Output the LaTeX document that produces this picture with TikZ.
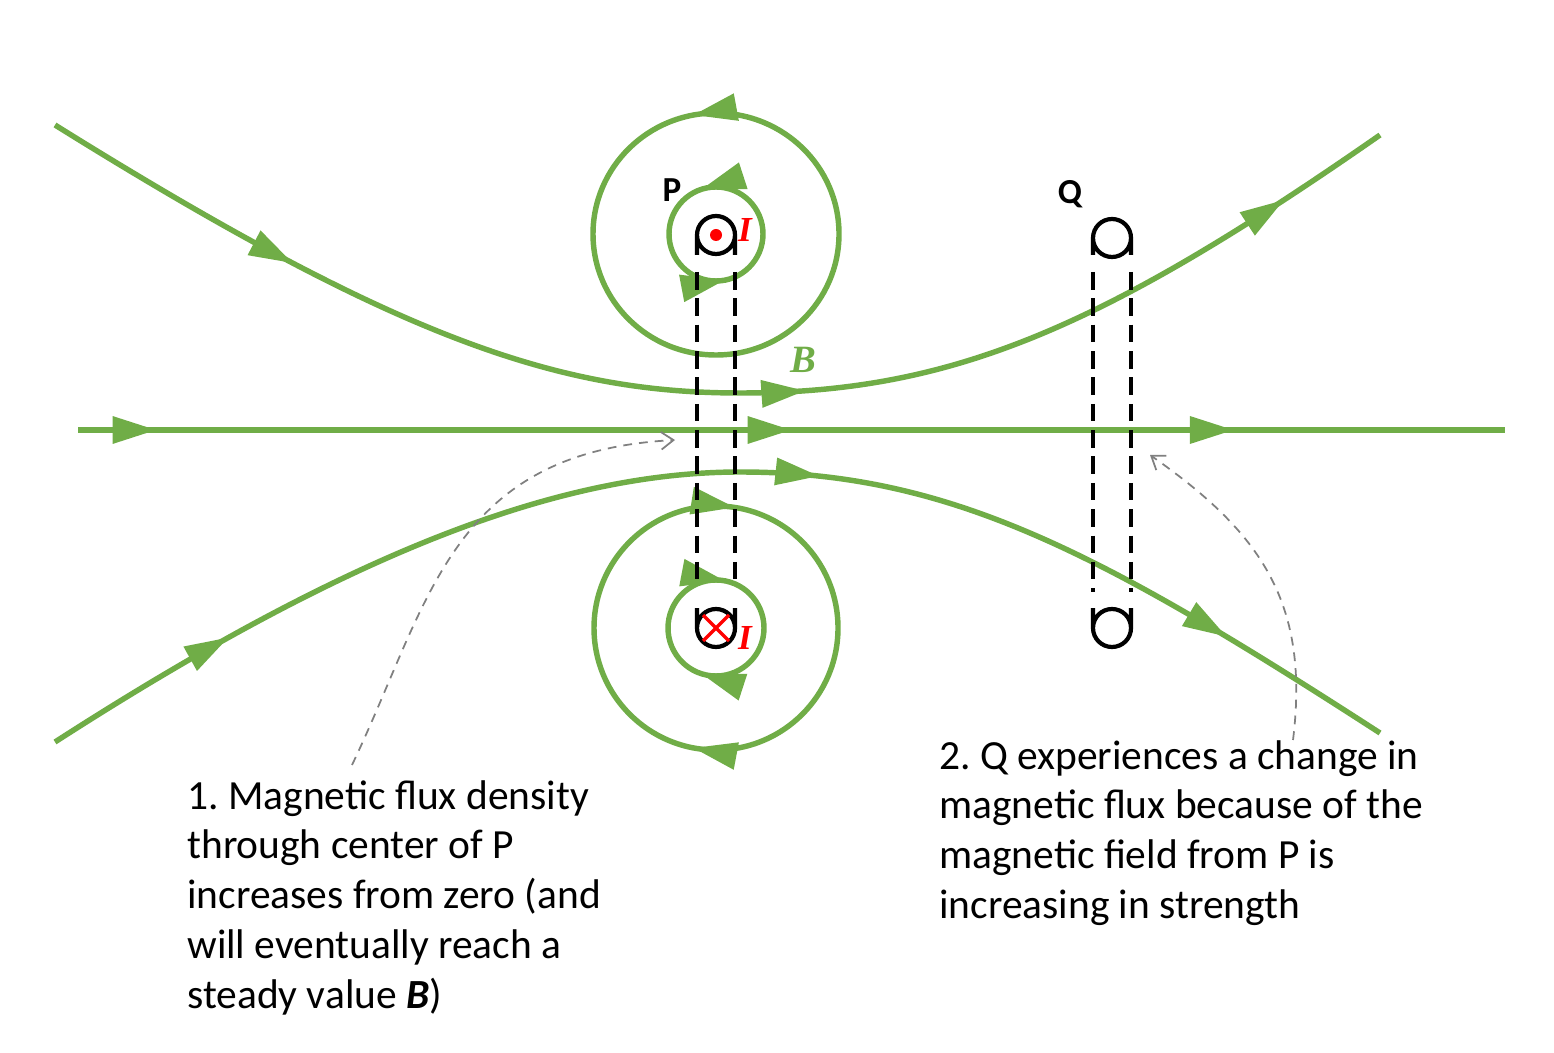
\documentclass[tikz,border=0pt]{standalone}
\usepackage{fontspec}
\setmainfont{Carlito}
\frenchspacing
\usetikzlibrary{arrows.meta,decorations.markings}
\definecolor{fg}{RGB}{112,173,71}
\tikzset{tri/.tip={Triangle[length=25pt,width=15pt]}}
\begin{document}
\begin{tikzpicture}[x=0.02cm,y=0.02cm,
  fl/.style={draw=fg,line width=3.1pt},
  marks/.style={postaction={decorate},decoration={markings,#1}},
  ring/.style={draw=black,line width=2.4pt},
  dsh/.style={draw=black,line width=2.4pt,dash pattern=on 10pt off 5pt},
  gray/.style={draw=gray,line width=1pt,dash pattern=on 5pt off 4pt,-{Straight Barb[length=7pt,width=10pt]}},
  txt/.style={align=left,font=\fontsize{23.6}{28.3}\selectfont,inner sep=0pt}]
\useasboundingbox (0,0) rectangle (1554,1052);
% field lines
\draw[fl,marks={mark=at position 0.19 with {\arrow[fg]{tri}},mark=at position 0.56 with {\arrow[fg]{tri}},mark=at position 0.92 with {\arrow[fg]{tri}}}]
 (55,927) .. controls (400,712) and (560,659) .. (740,659) .. controls (950,659) and (1100,722) .. (1380,917);
\draw[fl,marks={mark=at position 0.055 with {\arrow[fg]{tri}},mark=at position 0.5 with {\arrow[fg]{tri}},mark=at position 0.81 with {\arrow[fg]{tri}}}]
 (78,622) -- (1505,622);
\draw[fl,marks={mark=at position 0.14 with {\arrow[fg]{tri}},mark=at position 0.57 with {\arrow[fg]{tri}},mark=at position 0.875 with {\arrow[fg]{tri}}}]
 (55,310) .. controls (350,500) and (560,580) .. (740,580) .. controls (950,580) and (1100,500) .. (1380,319);
% circles around P top
\draw[fl,marks={mark=at position 0.3 with {\arrow[fg]{tri}},mark=at position 0.78 with {\arrow[fg]{tri}}}] (716,818) circle[radius=47];
\draw[fl,marks={mark=at position 0.28 with {\arrow[fg]{tri}}}] (716,818) ellipse[x radius=123,y radius=121];
% circles around P bottom (clockwise)
\draw[fl,marks={mark=at position 0.3 with {\arrow[fg]{tri}},mark=at position 0.78 with {\arrow[fg]{tri}}}] (764,424) arc[start angle=0,end angle=-360,radius=48];
\draw[fl,marks={mark=at position 0.28 with {\arrow[fg]{tri}},mark=at position 0.775 with {\arrow[fg]{tri}}}] (838,424) arc[start angle=0,end angle=-360,radius=122];
% loops P and Q
\draw[ring] (716,817) circle[radius=19] (697,817) -- (697,797) (735,817) -- (735,797);
\draw[ring] (716,424) circle[radius=19] (697,424) -- (697,444) (735,424) -- (735,444);
\draw[dsh] (697,780) -- (697,472);
\draw[dsh] (735,780) -- (735,472);
\draw[ring] (1112,814) circle[radius=19] (1093,814) -- (1093,797) (1131,814) -- (1131,797);
\draw[ring] (1112,424) circle[radius=19] (1093,424) -- (1093,444) (1131,424) -- (1131,444);
\draw[dsh] (1093,780) -- (1093,460);
\draw[dsh] (1131,780) -- (1131,460);
% currents
\fill[red] (716,817) circle[radius=6];
\draw[red,line width=2pt] (703,411) -- (729,437) (703,437) -- (729,411);
\node[text=red,font=\fontsize{20}{20}\selectfont\bfseries\itshape] (i1) at (745,822) {\fontspec{Liberation Serif}I};
\node[text=red,font=\fontsize{20}{20}\selectfont\bfseries\itshape] (i2) at (745,414) {\fontspec{Liberation Serif}I};
\node[text=fg,font=\fontsize{22}{22}\selectfont\bfseries\itshape] (B) at (803,692) {\fontspec{Liberation Serif}B};
\node[font=\fontsize{20}{20}\selectfont\bfseries] (P) at (672,862) {P};
\node[font=\fontsize{20}{20}\selectfont\bfseries] (Q) at (1070,858) {Q};
% annotations
\node[txt,anchor=north west] (t1) at (187,272) {1. Magnetic flux density\\through center of P\\increases from zero (and\\will eventually reach a\\steady value \textbf{\textit{B}})};
\node[txt,anchor=north west] (t2) at (939,312) {2. Q experiences a change in\\magnetic flux because of the\\magnetic field from P is\\increasing in strength};
\coordinate (a1) at (352,287);
\coordinate (b1) at (675,612);
\coordinate (a2) at (1293,312);
\coordinate (b2) at (1150,597);
\draw[gray] (a1) .. controls (430,450) and (450,600) .. (b1);
\draw[gray] (a2) .. controls (1310,450) and (1260,520) .. (b2);
\end{tikzpicture}
\end{document}
